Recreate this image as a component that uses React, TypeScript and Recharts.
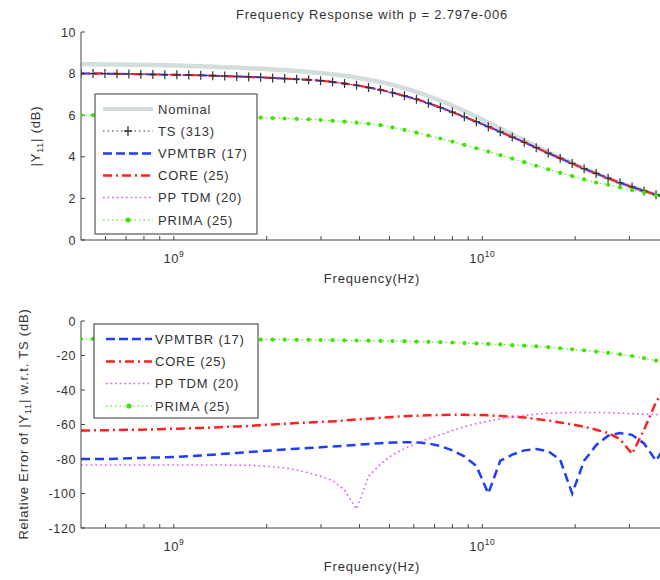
import React from 'react';
import { LineChart, Line, XAxis, YAxis } from 'recharts';

// ---------- data ----------
const freqHz = [
  5.0e8, 5.468e8, 5.979e8, 6.538e8, 7.15e8, 7.818e8, 8.55e8, 9.35e8, 1.0225e9, 1.1181e9,
  1.2227e9, 1.3371e9, 1.4622e9, 1.599e9, 1.7486e9, 1.9122e9, 2.0911e9, 2.2867e9, 2.5006e9, 2.7346e9,
  2.9904e9, 3.2702e9, 3.5761e9, 3.9107e9, 4.2765e9, 4.6766e9, 5.1141e9, 5.5926e9, 6.1158e9, 6.6879e9,
  7.3136e9, 7.9978e9, 8.746e9, 9.5642e9, 1.0459e10, 1.1437e10, 1.2507e10, 1.3677e10, 1.4957e10, 1.6356e10,
  1.7886e10, 1.956e10, 2.1389e10, 2.339e10, 2.5579e10, 2.7971e10, 3.0588e10, 3.345e10, 3.6579e10, 4.0e10,
];

const nominalTop = [
  8.45, 8.45, 8.44, 8.44, 8.43, 8.42, 8.41, 8.4, 8.39, 8.37,
  8.35, 8.33, 8.31, 8.29, 8.26, 8.23, 8.2, 8.17, 8.13, 8.08,
  8.03, 7.97, 7.9, 7.81, 7.71, 7.6, 7.46, 7.3, 7.12, 6.92,
  6.7, 6.46, 6.2, 5.93, 5.65, 5.36, 5.07, 4.78, 4.49, 4.21,
  3.95, 3.69, 3.44, 3.2, 2.97, 2.75, 2.55, 2.36, 2.18, 2.02,
];

const tsTop = [
  8.0, 8.0, 8.0, 7.99, 7.98, 7.97, 7.96, 7.95, 7.94, 7.93,
  7.92, 7.9, 7.88, 7.86, 7.84, 7.82, 7.79, 7.76, 7.73, 7.7,
  7.66, 7.6, 7.52, 7.44, 7.33, 7.22, 7.08, 6.93, 6.77, 6.58,
  6.37, 6.15, 5.92, 5.69, 5.45, 5.2, 4.95, 4.7, 4.44, 4.18,
  3.93, 3.68, 3.43, 3.2, 2.97, 2.75, 2.55, 2.36, 2.18, 2.02,
];

// reduced models that coincide with TS at this scale
const vpmtbrTop = tsTop;
const coreTop = tsTop;
const pptdmTop = tsTop;

const primaTop = [
  6.0, 6.0, 6.0, 5.99, 5.99, 5.98, 5.98, 5.97, 5.96, 5.95,
  5.94, 5.93, 5.92, 5.91, 5.9, 5.88, 5.86, 5.84, 5.82, 5.8,
  5.77, 5.73, 5.69, 5.64, 5.59, 5.52, 5.41, 5.29, 5.16, 5.02,
  4.88, 4.73, 4.57, 4.41, 4.25, 4.08, 3.91, 3.74, 3.57, 3.4,
  3.23, 3.07, 2.91, 2.76, 2.66, 2.52, 2.4, 2.28, 2.15, 2.03,
];

const vpmtbrErr = [
  -80, -80, -80, -79.8, -79.6, -79.4, -79.2, -79, -78.7, -78.4,
  -78, -77.5, -77, -76.5, -76, -75.5, -75, -74.5, -74, -73.6,
  -73.2, -72.8, -72.3, -71.8, -71.3, -70.8, -70.5, -70.3, -70.3, -71,
  -72.5, -75, -78.5, -84, -100, -81, -77.5, -75, -74.2, -75.5,
  -80.5, -100, -81, -72, -66.5, -65, -66, -71, -81, -70,
];

const coreErr = [
  -63.5, -63.4, -63.3, -63.2, -63.1, -63, -62.8, -62.6, -62.4, -62.2,
  -62, -61.7, -61.4, -61.1, -60.8, -60.4, -60, -59.6, -59.2, -58.8,
  -58.5, -58.2, -57.7, -57.1, -56.6, -56.1, -55.6, -55.2, -54.9, -54.7,
  -54.5, -54.4, -54.4, -54.5, -54.7, -55, -55.5, -56, -56.8, -57.7,
  -58.8, -60, -61.3, -63, -65, -68.5, -77, -63, -47, -36,
];

const pptdmErr = [
  -83.5, -83.5, -83.5, -83.5, -83.5, -83.5, -83.5, -83.5, -83.5, -83.5,
  -83.5, -83.5, -83.5, -83.6, -83.7, -84, -84.5, -85.2, -86.3, -88,
  -90, -92.5, -98, -109, -90, -83, -77.5, -74, -70.8, -68.2,
  -66, -63.5, -61.3, -59.5, -58, -56.7, -55.6, -54.7, -54, -53.5,
  -53.2, -53, -53, -53, -53.2, -53.4, -53.7, -54, -54.3, -54.6,
];

const primaErr = [
  -10.4, -10.4, -10.4, -10.4, -10.5, -10.5, -10.5, -10.5, -10.6, -10.6,
  -10.6, -10.6, -10.7, -10.7, -10.7, -10.8, -10.8, -10.8, -10.9, -10.9,
  -11, -11.1, -11.2, -11.3, -11.4, -11.5, -11.6, -11.7, -11.9, -12.1,
  -12.3, -12.5, -12.8, -13.0, -13.3, -13.6, -14.0, -14.3, -14.7, -15.2,
  -15.8, -16.4, -17.0, -17.7, -18.4, -19.3, -20.3, -21.5, -23.0, -24.5,
];

const xTicks = [6e8, 7e8, 8e8, 9e8, 1e9, 2e9, 3e9, 4e9, 5e9, 6e9, 7e9, 8e9, 9e9, 1e10, 2e10, 3e10];
const xDomain = [5e8, 4e10];
const topYTicks = [0, 2, 4, 6, 8, 10];
const errYTicks = [-120, -100, -80, -60, -40, -20, 0];

const topTitle = 'Frequency Response with p = 2.797e-006';
const xTitle = 'Frequency(Hz)';
const topLegend = ['Nominal', 'TS (313)', 'VPMTBR (17)', 'CORE (25)', 'PP TDM (20)', 'PRIMA (25)'];
const errLegend = ['VPMTBR (17)', 'CORE (25)', 'PP TDM (20)', 'PRIMA (25)'];

// ---------- styles ----------
const FONT = '"Liberation Sans", Arial, Helvetica, sans-serif';
const TEXT = '#333';
const AXIS = '#444';
const LS = 0.8;

const C_NOM = '#d3dddd';
const C_TS = '#333';
const C_VP = '#1f3dff';
const C_CORE = '#ff2020';
const C_PP = '#dd55ff';
const C_PRIMA = '#3ce600';

const topRows = freqHz.map((f, i) => ({
  f,
  nominal: nominalTop[i],
  ts: tsTop[i],
  vpmtbr: vpmtbrTop[i],
  core: coreTop[i],
  pptdm: pptdmTop[i],
  prima: primaTop[i],
}));

const errRows = freqHz.map((f, i) => ({
  f,
  vpmtbr: vpmtbrErr[i],
  core: coreErr[i],
  pptdm: pptdmErr[i],
  prima: primaErr[i],
}));

function XTickLabel(props: any) {
  const { x, y, payload } = props;
  const v = payload ? payload.value : 0;
  let exp = '';
  if (Math.abs(v - 1e9) < 1) exp = '9';
  else if (Math.abs(v - 1e10) < 1) exp = '10';
  if (!exp) return <g />;
  return (
    <text x={x} y={y} textAnchor="middle" fill={TEXT} fontFamily={FONT} fontSize={13} letterSpacing={0.5}>
      10
      <tspan dy={-6} fontSize={8.5}>{exp}</tspan>
    </text>
  );
}

function YTickLabel(props: any) {
  const { x, y, payload } = props;
  return (
    <text x={x} y={y} dy={4.5} textAnchor="end" fill={TEXT} fontFamily={FONT} fontSize={12.5} letterSpacing={0.6}>
      {payload.value}
    </text>
  );
}

const plusDot = (p: any) => {
  const { cx, cy, index } = p;
  if (cx == null || cy == null) return <g key={`pl${index}`} />;
  return (
    <path
      key={`pl${index}`}
      d={`M${cx - 3.5},${cy}H${cx + 3.5}M${cx},${cy - 4.5}V${cy + 4.5}`}
      stroke={C_TS}
      strokeWidth={1.2}
      fill="none"
    />
  );
};

const greenDot = (p: any) => {
  const { cx, cy, index } = p;
  if (cx == null || cy == null) return <g key={`gd${index}`} />;
  return <circle key={`gd${index}`} cx={cx} cy={cy} r={2.1} fill={C_PRIMA} stroke="none" />;
};

const axisCommon = {
  stroke: AXIS,
};

function Sample({ kind, x1, x2, y }: { kind: string; x1: number; x2: number; y: number }) {
  const mid = (x1 + x2) / 2;
  switch (kind) {
    case 'Nominal':
      return <line x1={x1} x2={x2} y1={y} y2={y} stroke={C_NOM} strokeWidth={4} />;
    case 'TS':
      return (
        <g>
          <line x1={x1} x2={x2} y1={y} y2={y} stroke={C_TS} strokeWidth={1} strokeDasharray="1.5 3" />
          <path d={`M${mid - 4},${y}H${mid + 4}M${mid},${y - 5}V${y + 5}`} stroke={C_TS} strokeWidth={1.3} />
        </g>
      );
    case 'VPMTBR':
      return <line x1={x1} x2={x2} y1={y} y2={y} stroke={C_VP} strokeWidth={2.5} strokeDasharray="9 4" />;
    case 'CORE':
      return <line x1={x1} x2={x2} y1={y} y2={y} stroke={C_CORE} strokeWidth={2.5} strokeDasharray="9 4 2 4" />;
    case 'PP':
      return <line x1={x1} x2={x2} y1={y} y2={y} stroke={C_PP} strokeWidth={1.6} strokeDasharray="1.6 3" />;
    default:
      return (
        <g>
          <line x1={x1} x2={x2} y1={y} y2={y} stroke={C_PRIMA} strokeWidth={1} strokeDasharray="1.5 3" />
          <circle cx={mid} cy={y} r={2.6} fill={C_PRIMA} />
        </g>
      );
  }
}

function kindOf(label: string) {
  return label.split(' ')[0];
}

function LegendBox({
  x, y, w, h, labels, rowY, sx1, sx2, tx,
}: { x: number; y: number; w: number; h: number; labels: string[]; rowY: number[]; sx1: number; sx2: number; tx: number }) {
  return (
    <g>
      <rect x={x} y={y} width={w} height={h} fill="#fff" stroke="#333" strokeWidth={1} />
      {labels.map((lab, i) => (
        <g key={lab}>
          <Sample kind={kindOf(lab)} x1={sx1} x2={sx2} y={rowY[i]} />
          <text x={tx} y={rowY[i] + 4.5} fill={TEXT} fontFamily={FONT} fontSize={13} letterSpacing={LS}>
            {lab}
          </text>
        </g>
      ))}
    </g>
  );
}

export default function App() {
  const txtStyle = { fill: TEXT, fontFamily: FONT, fontSize: 13, letterSpacing: LS } as any;
  return (
    <div
      style={{
        position: 'absolute',
        left: 0,
        top: 0,
        width: 660,
        height: 580,
        overflow: 'hidden',
        background: '#fff',
      }}
    >
      {/* top panel */}
      <div style={{ position: 'absolute', left: 0, top: 0 }}>
        <LineChart width={700} height={290} data={topRows} margin={{ top: 32, right: 32, left: 0, bottom: 0 }}>
          <XAxis
            dataKey="f"
            type="number"
            scale="log"
            domain={xDomain}
            allowDataOverflow
            ticks={xTicks}
            interval={0}
            tickSize={-4}
            tickMargin={27}
            tick={<XTickLabel />}
            height={50}
            {...axisCommon}
          />
          <XAxis
            xAxisId="top"
            orientation="top"
            dataKey="f"
            type="number"
            scale="log"
            domain={xDomain}
            allowDataOverflow
            ticks={xTicks}
            interval={0}
            tickSize={-4}
            tick={false}
            height={0}
            {...axisCommon}
          />
          <YAxis
            type="number"
            domain={[0, 10]}
            allowDataOverflow
            ticks={topYTicks}
            interval={0}
            width={81}
            tickSize={-4}
            tickMargin={9}
            tick={<YTickLabel />}
            {...axisCommon}
          />
          <Line dataKey="nominal" stroke={C_NOM} strokeWidth={4.5} dot={false} activeDot={false} isAnimationActive={false} />
          <Line dataKey="pptdm" stroke={C_PP} strokeWidth={1.5} strokeDasharray="1.6 3" dot={false} activeDot={false} isAnimationActive={false} />
          <Line dataKey="ts" stroke={C_TS} strokeWidth={1} strokeDasharray="1.5 3" dot={plusDot} activeDot={false} isAnimationActive={false} />
          <Line dataKey="vpmtbr" stroke={C_VP} strokeWidth={2} strokeDasharray="9 4" dot={false} activeDot={false} isAnimationActive={false} />
          <Line dataKey="core" stroke={C_CORE} strokeWidth={2} strokeDasharray="9 4 2 4" strokeDashoffset={6} dot={false} activeDot={false} isAnimationActive={false} />
          <Line dataKey="prima" stroke={C_PRIMA} strokeWidth={1} strokeDasharray="1.5 3" dot={greenDot} activeDot={false} isAnimationActive={false} />
        </LineChart>
      </div>

      {/* bottom panel */}
      <div style={{ position: 'absolute', left: 0, top: 290 }}>
        <LineChart width={700} height={290} data={errRows} margin={{ top: 31, right: 32, left: 0, bottom: 0 }}>
          <XAxis
            dataKey="f"
            type="number"
            scale="log"
            domain={xDomain}
            allowDataOverflow
            ticks={xTicks}
            interval={0}
            tickSize={-4}
            tickMargin={27}
            tick={<XTickLabel />}
            height={52}
            {...axisCommon}
          />
          <XAxis
            xAxisId="top"
            orientation="top"
            dataKey="f"
            type="number"
            scale="log"
            domain={xDomain}
            allowDataOverflow
            ticks={xTicks}
            interval={0}
            tickSize={-4}
            tick={false}
            height={0}
            {...axisCommon}
          />
          <YAxis
            type="number"
            domain={[-120, 0]}
            allowDataOverflow
            ticks={errYTicks}
            interval={0}
            width={81}
            tickSize={-4}
            tickMargin={9}
            tick={<YTickLabel />}
            {...axisCommon}
          />
          <Line dataKey="vpmtbr" stroke={C_VP} strokeWidth={2.5} strokeDasharray="9 5" dot={false} activeDot={false} isAnimationActive={false} />
          <Line dataKey="core" stroke={C_CORE} strokeWidth={2.5} strokeDasharray="9 4 2 4" dot={false} activeDot={false} isAnimationActive={false} />
          <Line dataKey="pptdm" stroke={C_PP} strokeWidth={1.6} strokeDasharray="1.6 3.2" dot={false} activeDot={false} isAnimationActive={false} />
          <Line dataKey="prima" stroke={C_PRIMA} strokeWidth={1} strokeDasharray="1.5 3" dot={greenDot} activeDot={false} isAnimationActive={false} />
        </LineChart>
      </div>

      {/* titles & legends */}
      <svg width={660} height={580} style={{ position: 'absolute', left: 0, top: 0, pointerEvents: 'none' }}>
        <text x={372} y={18.5} textAnchor="middle" {...txtStyle}>{topTitle}</text>
        <text x={372} y={283} textAnchor="middle" {...txtStyle}>{xTitle}</text>
        <text x={372} y={571} textAnchor="middle" {...txtStyle}>{xTitle}</text>
        <text transform="translate(40,136) rotate(-90)" textAnchor="middle" {...txtStyle}>
          |Y<tspan dy={3} fontSize={9}>11</tspan><tspan dy={-3}>| (dB)</tspan>
        </text>
        <text transform="translate(28,424) rotate(-90)" textAnchor="middle" {...txtStyle}>
          Relative Error of |Y<tspan dy={3} fontSize={9}>11</tspan><tspan dy={-3}>| w.r.t. TS (dB)</tspan>
        </text>
        <LegendBox
          x={95}
          y={94}
          w={162}
          h={140}
          labels={topLegend}
          rowY={[109, 131, 153.5, 175.5, 197.5, 220]}
          sx1={103}
          sx2={153}
          tx={158}
        />
        <LegendBox
          x={94}
          y={324}
          w={164}
          h={94}
          labels={errLegend}
          rowY={[339, 361.5, 383.5, 406]}
          sx1={106}
          sx2={152}
          tx={155}
        />
      </svg>
    </div>
  );
}
